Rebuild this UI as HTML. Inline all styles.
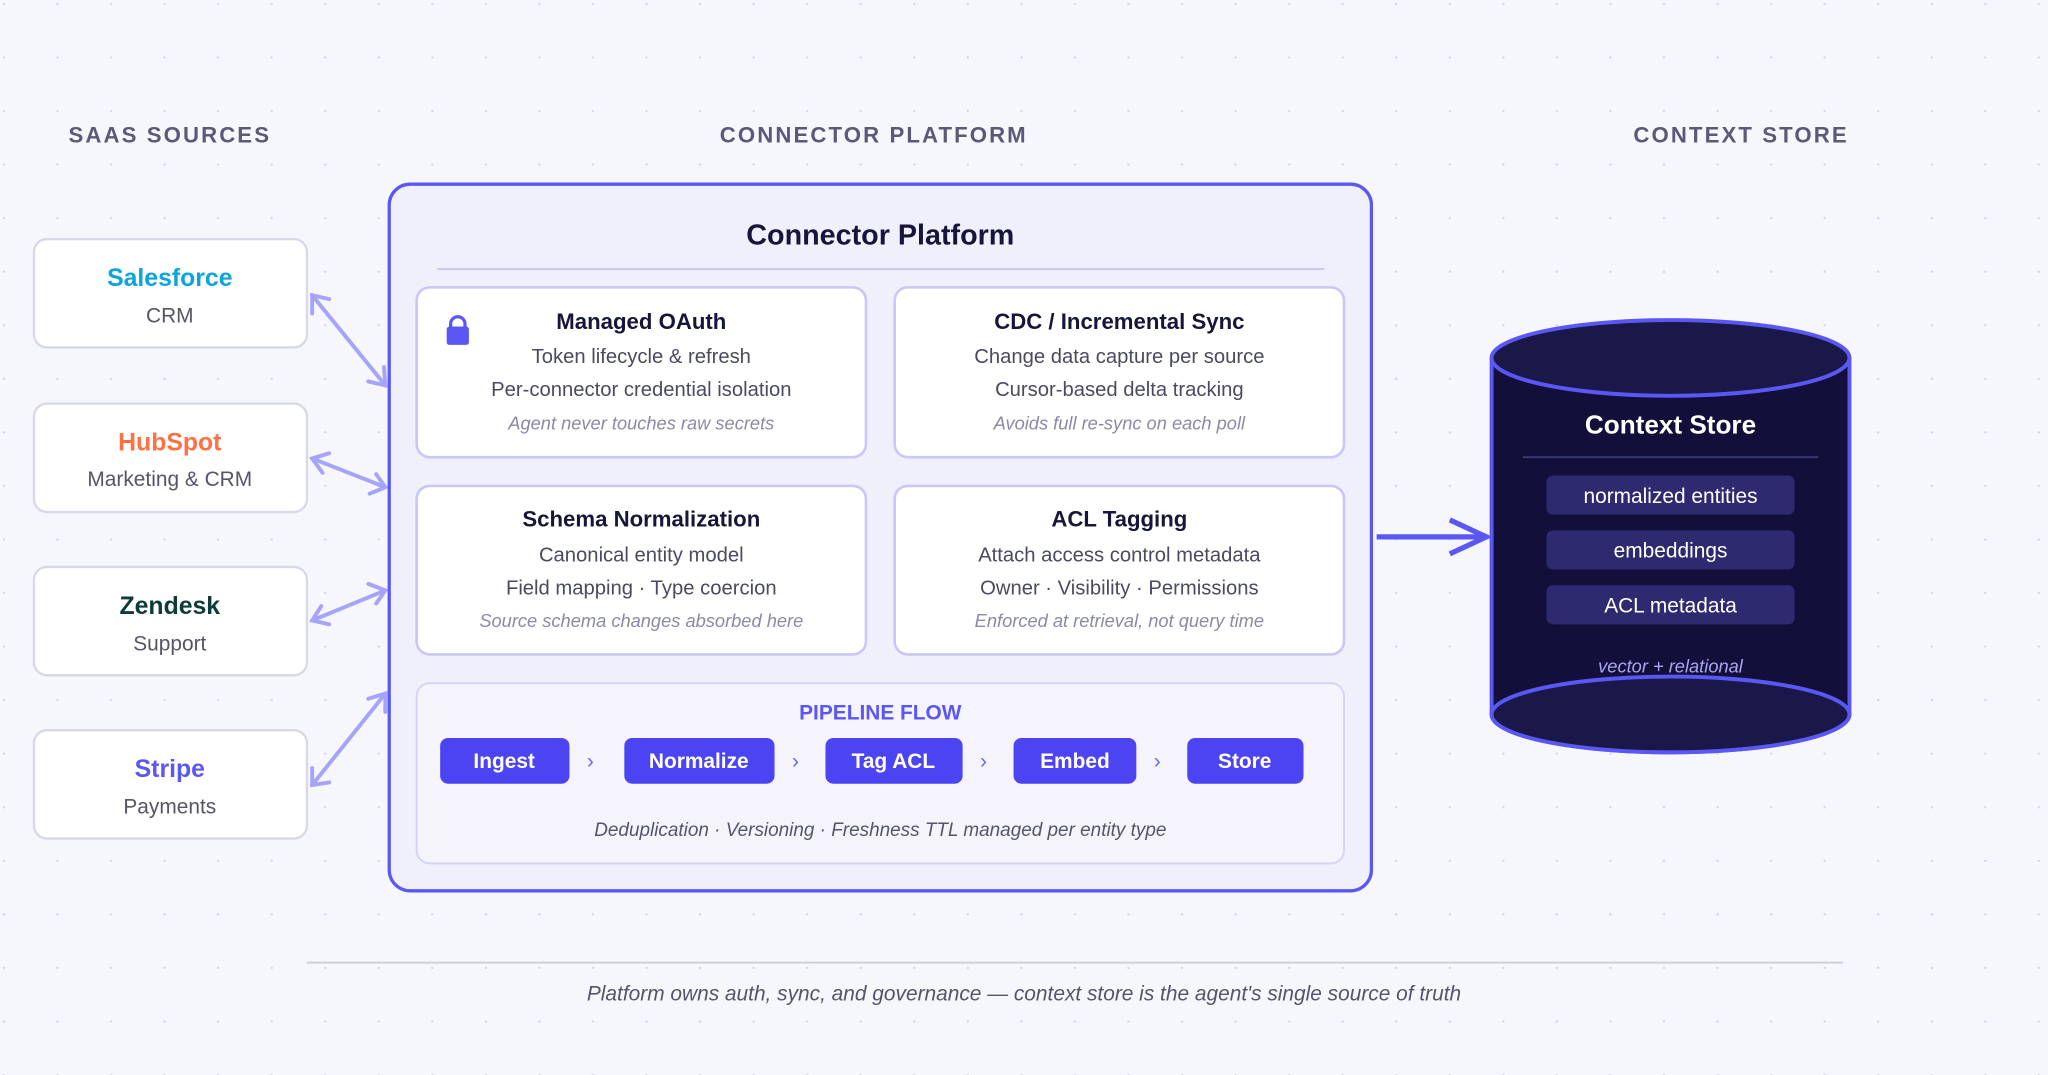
<!DOCTYPE html>
<html><head><meta charset="utf-8"><style>
html,body{margin:0;padding:0;background:#f6f6fd;}
svg{display:block;font-family:"Liberation Sans",sans-serif;}
</style></head><body>
<svg width="2048" height="1075" viewBox="0 0 1568 823" xmlns="http://www.w3.org/2000/svg">
<defs>
<pattern id="dots" x="2" y="2" width="41" height="41" patternUnits="userSpaceOnUse"><circle cx="1" cy="1" r="0.9" fill="#d4d4e4"/></pattern>
</defs>
<rect width="1568" height="823" fill="#f6f6fd"/>
<rect width="1568" height="823" fill="url(#dots)"/>

<g font-size="17" font-weight="700" fill="#5a5a78" letter-spacing="1.6" text-anchor="middle">
<text x="130" y="109">SAAS SOURCES</text>
<text x="669" y="109">CONNECTOR PLATFORM</text>
<text x="1333" y="109">CONTEXT STORE</text>
</g>

<g fill="#fff" stroke="#d8d8e6" stroke-width="1.8">
<rect x="26" y="183" width="209" height="83" rx="10"/>
<rect x="26" y="309" width="209" height="83" rx="10"/>
<rect x="26" y="434" width="209" height="83" rx="10"/>
<rect x="26" y="559" width="209" height="83" rx="10"/>
</g>
<g text-anchor="middle">
<text x="130" y="219" font-size="19" font-weight="700" fill="#0ba5dd">Salesforce</text>
<text x="130" y="247" font-size="16" fill="#555566">CRM</text>
<text x="130" y="345" font-size="19" font-weight="700" fill="#ff7145">HubSpot</text>
<text x="130" y="372" font-size="16" fill="#555566">Marketing &amp; CRM</text>
<text x="130" y="470" font-size="19" font-weight="700" fill="#0c3b38">Zendesk</text>
<text x="130" y="498" font-size="16" fill="#555566">Support</text>
<text x="130" y="595" font-size="19" font-weight="700" fill="#5b57f5">Stripe</text>
<text x="130" y="623" font-size="16" fill="#555566">Payments</text>
</g>

<g stroke="#a6a3fa" stroke-width="3" fill="none" stroke-linecap="round">
<line x1="239" y1="226" x2="295" y2="295"/>
<polyline points="239,240 239,226 252,229"/><polyline points="282,292 295,295 294,281"/>
<line x1="239" y1="351" x2="295" y2="373"/>
<polyline points="247,362 239,351 252,347"/><polyline points="283,378 295,373 288,363"/>
<line x1="239" y1="475" x2="295" y2="452"/>
<polyline points="252,478 239,475 246,464"/><polyline points="288,462 295,452 282,447"/>
<line x1="239" y1="601" x2="295" y2="531"/>
<polyline points="252,599 239,601 239,588"/><polyline points="295,545 295,531 282,535"/>
</g>

<rect x="298" y="141" width="752" height="541" rx="16" fill="#f0effc" stroke="#5b57f5" stroke-width="2.5"/>
<text x="674" y="187" font-size="22" font-weight="700" fill="#16163a" text-anchor="middle">Connector Platform</text>
<line x1="335" y1="206" x2="1014" y2="206" stroke="#c8c6f4" stroke-width="1.5"/>

<g fill="#fff" stroke="#c9c7f7" stroke-width="2">
<rect x="319" y="220" width="344" height="130" rx="10"/>
<rect x="685" y="220" width="344" height="130" rx="10"/>
<rect x="319" y="372" width="344" height="129" rx="10"/>
<rect x="685" y="372" width="344" height="129" rx="10"/>
</g>
<g text-anchor="middle">
<g font-size="17" font-weight="700" fill="#16163a">
<text x="491" y="252">Managed OAuth</text>
<text x="857" y="252">CDC / Incremental Sync</text>
<text x="491" y="403">Schema Normalization</text>
<text x="857" y="403">ACL Tagging</text>
</g>
<g font-size="15.5" fill="#4a4a60">
<text x="491" y="278">Token lifecycle &amp; refresh</text>
<text x="491" y="303">Per-connector credential isolation</text>
<text x="857" y="278">Change data capture per source</text>
<text x="857" y="303">Cursor-based delta tracking</text>
<text x="491" y="430">Canonical entity model</text>
<text x="491" y="455">Field mapping · Type coercion</text>
<text x="857" y="430">Attach access control metadata</text>
<text x="857" y="455">Owner · Visibility · Permissions</text>
</g>
<g font-size="14" font-style="italic" fill="#8a8aa6">
<text x="491" y="329">Agent never touches raw secrets</text>
<text x="857" y="329">Avoids full re-sync on each poll</text>
<text x="491" y="480">Source schema changes absorbed here</text>
<text x="857" y="480">Enforced at retrieval, not query time</text>
</g>
</g>
<g fill="#5b57f5">
<rect x="342" y="250" width="17" height="14" rx="2"/>
<path d="M345,251 v-3 a5.5,5.5 0 0 1 11,0 v3" fill="none" stroke="#5b57f5" stroke-width="2.5"/>
</g>

<rect x="319" y="523" width="710" height="138" rx="10" fill="#f5f4fd" stroke="#d6d4f4" stroke-width="1.5"/>
<text x="674" y="551" font-size="16" font-weight="700" fill="#5b57f5" text-anchor="middle">PIPELINE FLOW</text>
<g fill="#4c44f2">
<rect x="337" y="565" width="99" height="35" rx="6"/>
<rect x="478" y="565" width="115" height="35" rx="6"/>
<rect x="632" y="565" width="105" height="35" rx="6"/>
<rect x="776" y="565" width="94" height="35" rx="6"/>
<rect x="909" y="565" width="89" height="35" rx="6"/>
</g>
<g font-size="16" font-weight="700" fill="#fff" text-anchor="middle">
<text x="386" y="588">Ingest</text>
<text x="535" y="588">Normalize</text>
<text x="684" y="588">Tag ACL</text>
<text x="823" y="588">Embed</text>
<text x="953" y="588">Store</text>
</g>
<g font-size="16" fill="#6b67f0" text-anchor="middle">
<text x="452" y="588">›</text><text x="609" y="588">›</text><text x="753" y="588">›</text><text x="886" y="588">›</text>
</g>
<text x="674" y="640" font-size="14.5" font-style="italic" fill="#55556a" text-anchor="middle">Deduplication · Versioning · Freshness TTL managed per entity type</text>

<g stroke="#5b57f5" stroke-width="4" fill="none">
<line x1="1054" y1="411" x2="1138" y2="411"/>
<polyline points="1110,398 1138,411 1110,424"/>
</g>

<path d="M1142,274 V547 A137,29 0 0 0 1416,547 V274" fill="#12103a" stroke="#5b57f5" stroke-width="3"/>
<ellipse cx="1279" cy="547" rx="137" ry="29" fill="#1a1848" stroke="#5b57f5" stroke-width="3"/>
<ellipse cx="1279" cy="274" rx="137" ry="29" fill="#1a1848" stroke="#5b57f5" stroke-width="3"/>
<text x="1279" y="332" font-size="20" font-weight="700" fill="#fff" text-anchor="middle">Context Store</text>
<line x1="1166" y1="350" x2="1392" y2="350" stroke="#3a3878" stroke-width="1.5"/>
<g fill="#2d2a70">
<rect x="1184" y="364" width="190" height="30" rx="5"/>
<rect x="1184" y="406" width="190" height="30" rx="5"/>
<rect x="1184" y="448" width="190" height="30" rx="5"/>
</g>
<g font-size="16" fill="#fff" text-anchor="middle">
<text x="1279" y="385">normalized entities</text>
<text x="1279" y="427">embeddings</text>
<text x="1279" y="469">ACL metadata</text>
</g>
<text x="1279" y="515" font-size="14" font-style="italic" fill="#a9a6f0" text-anchor="middle">vector + relational</text>

<line x1="235" y1="737" x2="1411" y2="737" stroke="#cfcfdc" stroke-width="1.5"/>
<text x="784" y="766" font-size="16" font-style="italic" fill="#55556a" text-anchor="middle">Platform owns auth, sync, and governance — context store is the agent's single source of truth</text>
</svg>
</body></html>
